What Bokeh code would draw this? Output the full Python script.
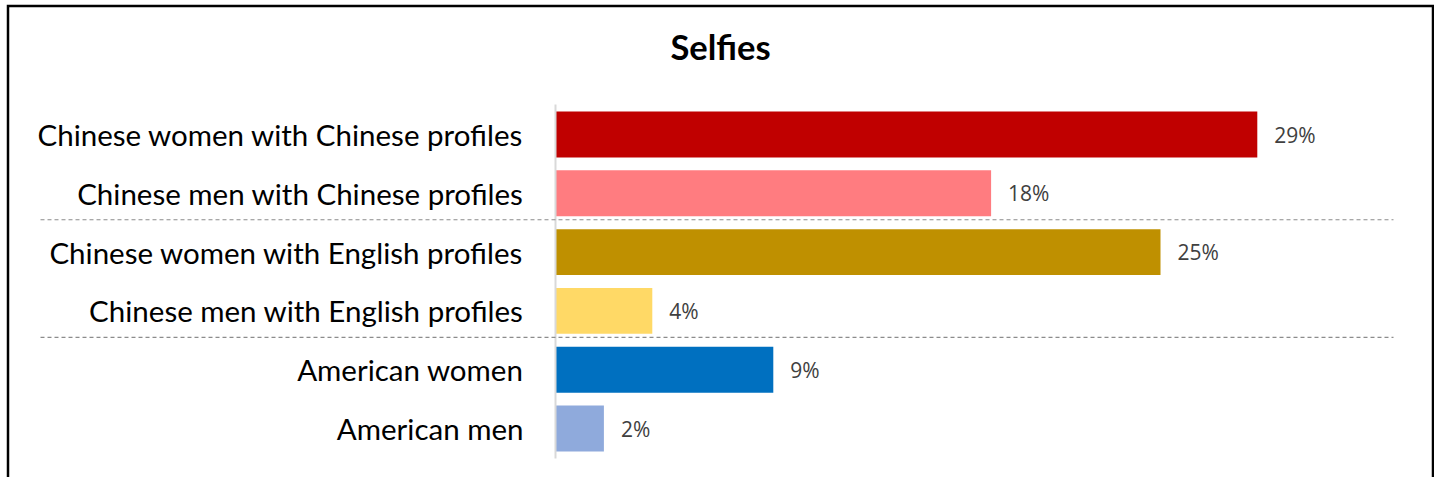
from bokeh.plotting import figure
from bokeh.models import Range1d, ColumnDataSource
from bokeh.core.properties import value
from bokeh.embed import file_html
from bokeh.resources import INLINE

# ---- data ----
categories = [
    "Chinese women with Chinese profiles",
    "Chinese men with Chinese profiles",
    "Chinese women with English profiles",
    "Chinese men with English profiles",
    "American women",
    "American men",
]
values = [29, 18, 25, 4, 9, 2]
colors = ["#C00000", "#FF7C80", "#BF9000", "#FFD966", "#0070C0", "#8FAADC"]
title_text = "Selfies"
group_breaks = [1.45, 3.45]  # separators between groups (in category index units)

# ---- layout (pixels) ----
W, H = 1434, 477
PX_PER_PCT = 24.2          # horizontal scale
AXIS_PX = 555              # x=0 position on canvas
ROW_PX = 58.8              # category pitch
FIRST_PX = 134             # centre of first category on canvas

x0 = -AXIS_PX / PX_PER_PCT
x1 = (W - AXIS_PX) / PX_PER_PCT
y_top = -FIRST_PX / ROW_PX
y_bot = (H - FIRST_PX) / ROW_PX


def xpx(px):
    return (px - AXIS_PX) / PX_PER_PCT


def ypx(px):
    return (px - FIRST_PX) / ROW_PX


p = figure(width=W, height=H, output_backend="svg", toolbar_location=None,
           x_range=Range1d(x0, x1), y_range=Range1d(y_bot, y_top),
           min_border=0, min_border_left=0, min_border_right=0,
           min_border_top=0, min_border_bottom=0)
p.axis.visible = False
p.grid.visible = False
p.outline_line_color = None
p.background_fill_color = "white"
p.border_fill_color = "white"

idx = list(range(len(categories)))
src = ColumnDataSource(dict(y=idx, v=values, c=colors, cat=categories,
                            lab=[f"{v}%" for v in values]))

# bars
p.hbar(y="y", left=0, right="v", height=0.78, fill_color="c", line_color=None, source=src)

# vertical axis line
p.segment(x0=[0], y0=[-0.51], x1=[0], y1=[len(categories) - 0.49],
          line_color="#D9D9D9", line_width=2)

# group separators
p.segment(x0=[xpx(40)] * len(group_breaks), y0=group_breaks,
          x1=[xpx(1393)] * len(group_breaks), y1=group_breaks,
          line_color="#8C8C8C", line_width=1.2, line_dash="4 3")

# category labels
p.text(x=-32 / PX_PER_PCT, y="y", text="cat", source=src,
       text_align="right", text_baseline="middle",
       text_font=value("Lato"), text_font_size="29.5px", text_color="black")

# value labels
p.text(x="v", y="y", text="lab", source=src, x_offset=17,
       text_align="left", text_baseline="middle",
       text_font=value("Open Sans"), text_font_size="21px", text_color="#404040")

# title
p.text(x=[xpx(720)], y=[ypx(46)], text=[title_text],
       text_align="center", text_baseline="middle",
       text_font=value("Lato"), text_font_style="bold",
       text_font_size="34.5px", text_color="black")

# chart border (left, top, right) - open at the bottom
bx = [xpx(7.5), xpx(7.5), xpx(1432.5), xpx(1432.5)]
by = [ypx(H + 20), ypx(5.5), ypx(5.5), ypx(H + 20)]
p.line(x=bx, y=by, line_color="black", line_width=2.5, line_join="miter")

open("out.html", "w").write(file_html(p, INLINE))
